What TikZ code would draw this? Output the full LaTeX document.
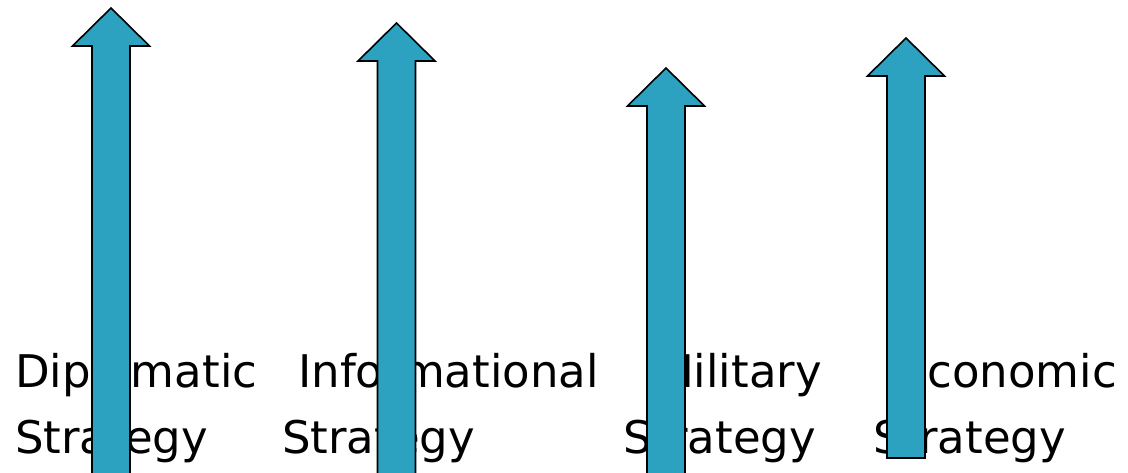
\documentclass[tikz,border=0pt]{standalone}
\usepackage{fontspec}
\setmainfont{DejaVu Sans}
\usetikzlibrary{positioning}

\definecolor{arrowblue}{RGB}{44,162,192}
\tikzset{
  word/.style={font=\fontsize{45}{54}\selectfont, inner sep=0pt, text=black},
  uparrow/.style={fill=arrowblue, draw=black, line width=1.6pt, line join=miter}
}
% centre x, tip y, head base y, bottom y
\newcommand{\blockarrow}[4]{%
  \filldraw[uparrow] (#1-19,#4) -- (#1-19,#3) -- (#1-38.5,#3) -- (#1,#2)
    -- (#1+38.5,#3) -- (#1+19,#3) -- (#1+19,#4) -- cycle;}

\begin{document}
\begin{tikzpicture}[x=1pt,y=-1pt]
\useasboundingbox (0,0) rectangle (1128,473);
\clip (0,0) rectangle (1128,473);
\node[word, anchor=base west] (dip) at (15,387) {Diplomatic};
\node[word, anchor=base west] (dip_str) at (15,453) {Strategy};
\node[word, anchor=base west] (inf) at (298,387) {Informational};
\node[word, anchor=base west] (inf_str) at (282,453) {Strategy};
\node[word, anchor=base east] (mil) at (822,387) {Military};
\node[word, anchor=base west] (mil_str) at (623,453) {Strategy};
\node[word, anchor=base east] (eco) at (1117,387) {Economic};
\node[word, anchor=base west] (eco_str) at (873,453) {Strategy};
\blockarrow{111}{8}{46}{490}
\blockarrow{396.5}{23}{61}{490}
\blockarrow{666}{68}{106}{490}
\blockarrow{906}{38}{76}{458}
\end{tikzpicture}
\end{document}
